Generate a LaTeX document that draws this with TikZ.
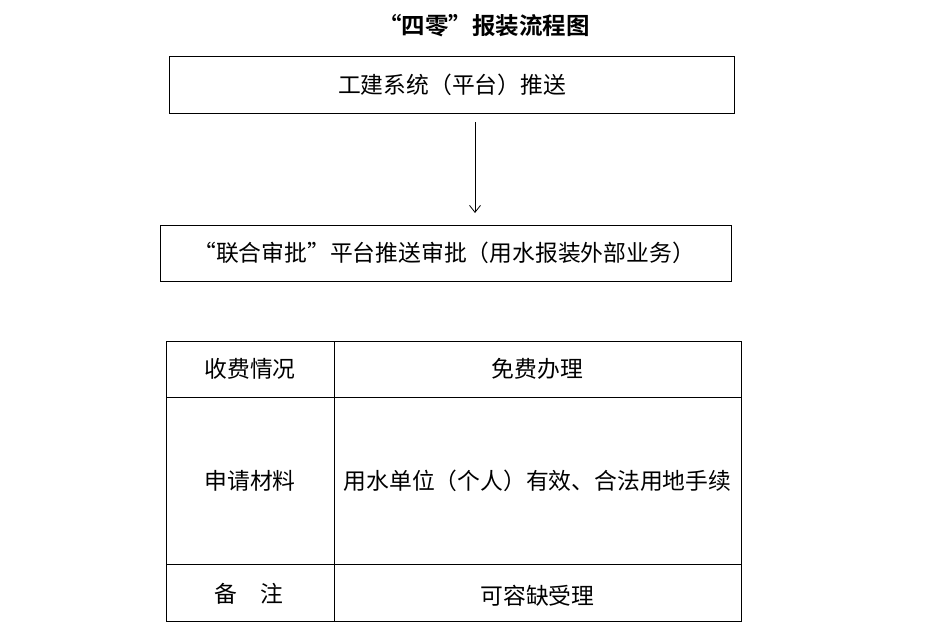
\documentclass[tikz,border=0pt]{standalone}
\usepackage{fontspec}
\usetikzlibrary{arrows.meta}
\newfontfamily\cjk{Noto Sans CJK SC}
\newfontfamily\cjkb{Noto Sans CJK SC Bold}
\begin{document}
\begin{tikzpicture}[x=1pt,y=-1pt,
  box/.style={draw=black,line width=0.9pt,inner sep=0pt},
  txt/.style={font=\cjk\fontsize{22.8}{22.8}\selectfont,inner sep=0pt,anchor=center},
  grid/.style={draw=black,line width=0.9pt}]
\useasboundingbox (0,0) rectangle (949,640);
\node[font=\cjkb\fontsize{23.5}{23.5}\selectfont,inner sep=0pt] (title) at (484,26) {“四零”报装流程图};
\node[box,minimum width=565pt,minimum height=57pt] (b1) at (451.5,84.5) {};
\node[txt] (t1) at (452,85) {工建系统（平台）推送};
\node[box,minimum width=571pt,minimum height=56pt] (b2) at (445.5,253) {};
\node[txt] (t2) at (444,253) {“联合审批”平台推送审批（用水报装外部业务）};
\coordinate (a1) at (475,122);
\coordinate (a2) at (475,213);
\draw[line width=0.8pt,-{Straight Barb[length=7pt,width=11pt,line width=0.8pt]}] (a1) -- (a2);
% table
\coordinate (tl) at (166,341);
\coordinate (br) at (741,621);
\draw[grid] (tl) rectangle (br);
\draw[grid] (334,341) -- (334,621);
\draw[grid] (166,397) -- (741,397);
\draw[grid] (166,564) -- (741,564);
\node[txt] (c11) at (250,369) {收费情况};
\node[txt] (c12) at (537.5,369) {免费办理};
\node[txt] (c21) at (250,481) {申请材料};
\node[txt] (c22) at (537.5,481) {用水单位（个人）有效、合法用地手续};
\node[txt] (c31) at (249,594) {备\hspace{1em}注};
\node[txt] (c32) at (537.5,596) {可容缺受理};
\end{tikzpicture}
\end{document}
